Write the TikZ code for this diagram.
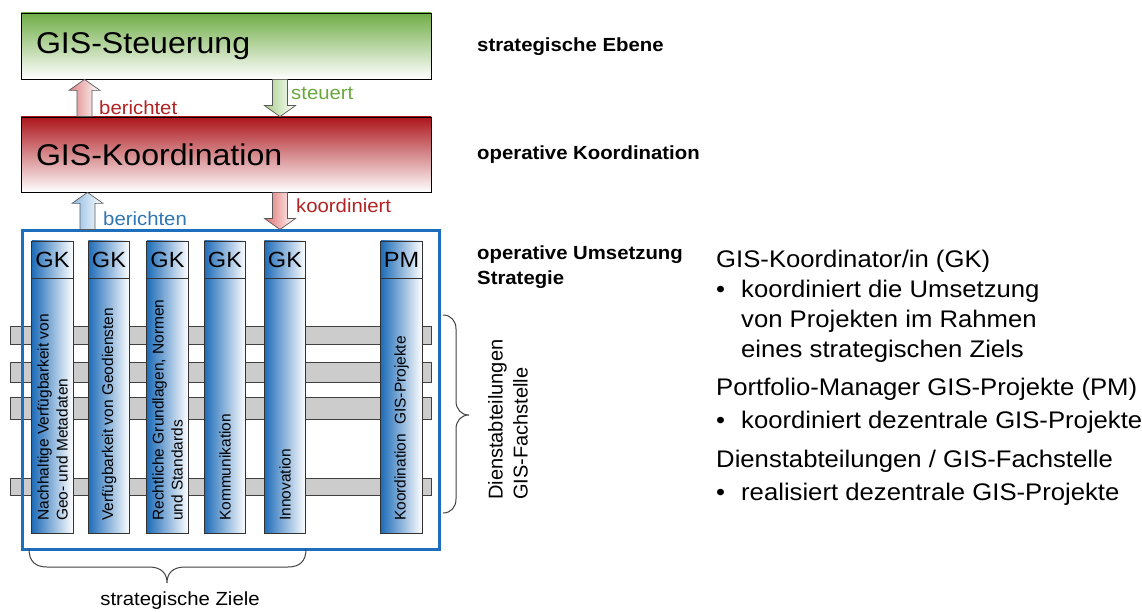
\documentclass[tikz,border=0pt]{standalone}
\usepackage{fontspec}
\setmainfont{Liberation Sans}[FakeStretch=1.07]
\newfontfamily\rotfont{Liberation Sans}
\usetikzlibrary{calc,positioning}

\definecolor{steuGreen}{RGB}{112,173,71}
\definecolor{koordRed}{RGB}{172,22,28}
\definecolor{labRed}{RGB}{178,34,34}
\definecolor{labGreen}{RGB}{106,168,62}
\definecolor{labBlue}{RGB}{46,117,182}
\definecolor{arrRed}{RGB}{222,130,130}
\definecolor{arrGreen}{RGB}{165,208,135}
\definecolor{arrBlue}{RGB}{140,185,225}
\definecolor{colBlue}{RGB}{30,108,184}
\definecolor{frameBlue}{RGB}{30,110,190}
\definecolor{barGray}{RGB}{204,204,204}

% block arrow from one box edge to the other, at the x of a named coordinate
\newcommand\blockarrow[4]{%
  \path[arrowbox,left color=#4,right color=white]
    let \p0=(#3), \p1=(#1), \p2=(#2), \n1={sign(\y1-\y2)} in
    (\x0-7.5pt,\y1) -- (\x0-7.5pt,{\y2+\n1*11pt}) -- (\x0-15.5pt,{\y2+\n1*11pt})
    -- (\x0,\y2) -- (\x0+15.5pt,{\y2+\n1*11pt}) -- (\x0+7.5pt,{\y2+\n1*11pt})
    -- (\x0+7.5pt,\y1) -- cycle;}

\begin{document}
\begin{tikzpicture}[x=1pt,y=-1pt,
    levelbox/.style={draw=black,line width=0.8pt,minimum width=410pt,text width=380pt,
                     align=left,inner xsep=15pt,font=\fontsize{30}{36}\selectfont},
    arrowbox/.style={draw=black!65,line width=0.7pt},
    arrowlabel/.style={anchor=west,inner sep=0pt,font=\fontsize{19}{23}\selectfont},
    colhead/.style={draw=black!80,line width=0.8pt,left color=colBlue,right color=white,
                    minimum width=41.5pt,minimum height=37.5pt,inner sep=0pt,
                    font=\fontsize{22}{26}\selectfont},
    colbody/.style={draw=black!80,line width=0.8pt,left color=colBlue,right color=white,
                    minimum width=41.5pt,minimum height=255pt,inner sep=0pt},
    coltext/.style={rotate=90,anchor=west,inner sep=0pt,align=left,
                    font=\rotfont\fontsize{15.5}{19}\selectfont},
    bar/.style={draw=black!75,line width=0.8pt,fill=barGray},
    level/.style={anchor=west,inner sep=0pt,align=left,font=\bfseries\fontsize{19}{25}\selectfont},
    legend/.style={anchor=base west,inner sep=0pt,align=left,font=\fontsize{24}{30}\selectfont},
    brace/.style={draw=black!75,line width=1pt}]

  \useasboundingbox (0,0) rectangle (1142,612);

  % levels
  \node[levelbox,minimum height=66pt,top color=steuGreen,bottom color=white]
       (steu) at (226,46) {GIS-Steuerung};
  \node[levelbox,minimum height=75pt,top color=koordRed,bottom color=white]
       (koord) at (226,154.5) {GIS-Koordination};

  % cross-cutting departments
  \foreach \ya/\yb in {326/344,362/382,397/419,478/495}
    \draw[bar] (10,\ya) rectangle (431,\yb);

  \node[draw=frameBlue,line width=3pt,minimum width=417pt,minimum height=318pt]
       (umsetzung) at (230.5,390) {};

  % strategic goals
  \foreach \i/\cx/\hd/\txt in {1/52.5/GK/{Nachhaltige Verfügbarkeit von\\Geo- und Metadaten},
                               2/109/GK/{Verfügbarkeit von Geodiensten},
                               3/167.5/GK/{Rechtliche Grundlagen, Normen\\und Standards},
                               4/225/GK/{Kommunikation},
                               5/285/GK/{Innovation},
                               6/401.5/PM/{Koordination\hspace{.3em} GIS-Projekte}} {
    \node[colhead] (head\i) at (\cx,259.75) {\hd};
    \node[colbody] (ziel\i) at (\cx,406) {};
    \node[coltext] (txt\i) at (\cx,521) {\txt};
  }

  % arrows between the levels
  \path (84.5,0) coordinate (berX) (280,0) coordinate (steX)
        (87.5,0) coordinate (bernX) (280,0) coordinate (kooX);
  \blockarrow{koord.north}{steu.south}{berX}{arrRed}
  \blockarrow{steu.south}{koord.north}{steX}{arrGreen}
  \blockarrow{umsetzung.north}{koord.south}{bernX}{arrBlue}
  \blockarrow{koord.south}{umsetzung.north}{kooX}{arrRed!85!red}

  \node[arrowlabel,text=labRed]   (lBer)  at (99,108)  {berichtet};
  \node[arrowlabel,text=labGreen] (lSte)  at (291,93)  {steuert};
  \node[arrowlabel,text=labBlue]  (lBern) at (103,219) {berichten};
  \node[arrowlabel,text=labRed]   (lKoo)  at (296,206) {koordiniert};

  % braces
  \draw[brace] (443,315) .. controls (451,315) and (456,321) .. (456,329) -- (456,401)
               .. controls (456,409) and (461,415) .. (469,415)
               .. controls (461,415) and (456,421) .. (456,429) -- (456,499)
               .. controls (456,507) and (451,513) .. (443,513);
  \node[rotate=90,anchor=west,inner sep=0pt,align=left,font=\rotfont\fontsize{20}{25}\selectfont]
       (dienst) at (508,500) {Dienstabteilungen\\GIS-Fachstelle};

  \draw[brace] (29,549) .. controls (29,561) and (35,567) .. (47,567) -- (149,567)
               .. controls (161,567) and (167,573) .. (167,583)
               .. controls (167,573) and (173,567) .. (185,567) -- (288,567)
               .. controls (300,567) and (306,561) .. (306,549);
  \node[font=\fontsize{19}{23}\selectfont,inner sep=0pt] (ziele) at (180,601) {strategische Ziele};

  % level names
  \node[level] (eb1) at (477,47)    {strategische Ebene};
  \node[level] (eb2) at (477,155)   {operative Koordination};
  \node[level] (eb3) at (477,267.5) {operative Umsetzung\\Strategie};

  % legend (base = last line)
  \node[legend] (gk) at (716,357) {GIS-Koordinator/in (GK)\\
      \makebox[25pt][l]{•}koordiniert die Umsetzung\\
      \hspace*{25pt}von Projekten im Rahmen\\
      \hspace*{25pt}eines strategischen Ziels};
  \node[legend] (pm) at (716,428) {Portfolio-Manager GIS-Projekte (PM)\\[3pt]
      \makebox[25pt][l]{•}koordiniert dezentrale GIS-Projekte};
  \node[legend] (ds) at (716,500) {Dienstabteilungen / GIS-Fachstelle\\[3pt]
      \makebox[25pt][l]{•}realisiert dezentrale GIS-Projekte};
\end{tikzpicture}
\end{document}
